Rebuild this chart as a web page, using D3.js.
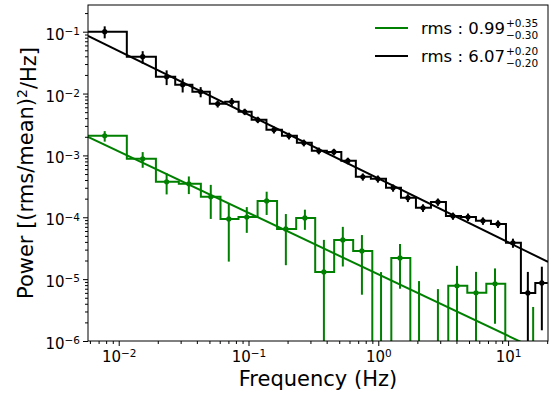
<!DOCTYPE html>
<html>
<head>
<meta charset="utf-8">
<script src="https://cdn.jsdelivr.net/npm/d3@7"></script>
<style>
body { margin: 0; background: #fff; }
text { font-family: "DejaVu Sans", sans-serif; fill: #000; }
</style>
</head>
<body>
<script>
var w = 551;
var h = 394;
var margin = {top: 5, right: 3, bottom: 53, left: 88};
var pw = w - margin.left - margin.right;
var ph = h - margin.top - margin.bottom;

// black series (rms 6.07)
var blackFreq = [0.0078, 0.0153, 0.0234, 0.0311, 0.0428, 0.0579, 0.0743, 0.0935, 0.118,
                 0.157, 0.205, 0.267, 0.348, 0.455, 0.583, 0.760, 0.993, 1.30, 1.69, 2.21,
                 2.88, 3.76, 4.91, 6.40, 8.36, 10.9, 14.2, 18.2];
var blackPower = [0.100, 0.0394, 0.0187, 0.0139, 0.0107, 0.00684, 0.00736, 0.00508, 0.00377,
                  0.00259, 0.00207, 0.00160, 0.00119, 0.00114, 0.000818, 0.000451, 0.000418,
                  0.000299, 0.000206, 0.000142, 0.000177, 0.000105, 0.000101, 0.0000875,
                  0.0000782, 0.0000386, 0.00000598, 0.00000869];
var blackErr = [0.022, 0.009, 0.005, 0.0035, 0.002, 0.0009, 0.0011, 0.0006, 0.00045,
                0.00033, 0.00026, 0.0002, 0.00015, 0.00014, 0.0001, 0.00006, 0.000055,
                0.00004, 0.00003, 0.00002, 0.000024, 0.000014, 0.000014, 0.000012,
                0.000011, 0.0000065, 0.0000071, 0.0000072];

// green series (rms 0.99)
var greenFreq = [0.0078, 0.0153, 0.0234, 0.0347, 0.0512, 0.0705, 0.0970, 0.138, 0.194,
                 0.272, 0.381, 0.533, 0.748, 1.05, 1.47, 2.06, 2.88, 4.04, 5.66, 7.93,
                 11.1, 15.6];
var greenPower = [0.00207, 0.000881, 0.000374, 0.000347, 0.000214, 0.0000942, 0.000101,
                  0.000184, 0.0000648, 0.0000977, 0.0000131, 0.0000430, 0.0000286,
                  -0.000001, 0.0000220, -0.000002, -0.000003, 0.0000078, 0.0000060,
                  0.0000084, -0.000002, 0.0000009];
var greenErr = [0.0004, 0.00025, 0.00014, 0.00011, 0.00012, 0.000075, 0.000045, 0.000075,
                0.000048, 0.000035, 0.00003, 0.000027, 0.000023, 0.000014, 0.000015,
                0.0000113, 0.0000099, 0.0000086, 0.0000071, 0.0000065, 0.000002, 0.00000265];

// power-law model lines (end points)
var modelFreq = [0.0058, 20.3];
var blackModel = [0.0855, 0.000019];
var greenModel = [0.0020, 0.0000006];

var xTicks = [0.01, 0.1, 1, 10];
var xTickExp = ["\u22122", "\u22121", "0", "1"];
var yTicks = [1e-6, 1e-5, 1e-4, 1e-3, 1e-2, 1e-1];
var yTickExp = ["\u22126", "\u22125", "\u22124", "\u22123", "\u22122", "\u22121"];

var legendLabels = [
    {color: "green", main: "rms : 0.99", up: "+0.35", down: "\u22120.30"},
    {color: "black", main: "rms : 6.07", up: "+0.20", down: "\u22120.20"}
];

var svg = d3.select("body").append("svg")
            .attr("width", w)
            .attr("height", h);

var g = svg.append("g")
           .attr("transform", "translate(" + margin.left + "," + margin.top + ")");

var xScale = d3.scaleLog().domain([0.0058, 20.3]).range([0, pw]);
var yScale = d3.scaleLog().domain([1e-6, 0.27]).range([ph, 0]);

function yPos(v) {
    return v > 0 ? yScale(v) : ph + 50;
}

svg.append("defs").append("clipPath").attr("id", "clip")
   .append("rect").attr("width", pw).attr("height", ph);

var plot = g.append("g").attr("clip-path", "url(#clip)");

function edges(f) {
    var e = [f[0] - ((f[0] + f[1]) / 2 - f[0])];
    for (var i = 1; i < f.length; i++) e.push((f[i - 1] + f[i]) / 2);
    var n = f.length;
    e.push(f[n - 1] + (f[n - 1] - (f[n - 2] + f[n - 1]) / 2));
    return e;
}

function drawSeries(freq, power, err, color) {
    var ed = edges(freq);
    var pts = [];
    power.forEach(function(p, i) {
        pts.push([ed[i], p]);
        pts.push([ed[i + 1], p]);
    });
    plot.append("path")
        .datum(pts)
        .attr("fill", "none")
        .attr("stroke", color)
        .attr("stroke-width", 2)
        .attr("d", d3.line()
            .x(function(d) { return xScale(d[0]); })
            .y(function(d) { return yPos(d[1]); }));

    freq.forEach(function(f, i) {
        var top = power[i] + err[i];
        var bot = power[i] - err[i];
        if (top <= 0) return;
        plot.append("line")
            .attr("x1", xScale(f)).attr("x2", xScale(f))
            .attr("y1", yPos(top)).attr("y2", yPos(bot))
            .attr("stroke", color)
            .attr("stroke-width", 2);
        if (power[i] > 0) {
            plot.append("circle")
                .attr("cx", xScale(f))
                .attr("cy", yScale(power[i]))
                .attr("r", 2.6)
                .attr("fill", color);
        }
    });
}

function drawModel(vals, color) {
    plot.append("path")
        .datum(modelFreq.map(function(f, i) { return [f, vals[i]]; }))
        .attr("fill", "none")
        .attr("stroke", color)
        .attr("stroke-width", 2)
        .attr("d", d3.line()
            .x(function(d) { return xScale(d[0]); })
            .y(function(d) { return yScale(d[1]); }));
}

drawSeries(greenFreq, greenPower, greenErr, "green");
drawModel(greenModel, "green");
drawSeries(blackFreq, blackPower, blackErr, "black");
drawModel(blackModel, "black");

// minor ticks
var xMinor = [], yMinor = [];
for (var d = -3; d <= 1; d++) {
    for (var m = 2; m <= 9; m++) {
        var v = m * Math.pow(10, d);
        if (v > 0.0058 && v < 20.3) xMinor.push(v);
    }
}
for (var d2 = -6; d2 <= -1; d2++) {
    for (var m2 = 2; m2 <= 9; m2++) {
        var v2 = m2 * Math.pow(10, d2);
        if (v2 < 0.27) yMinor.push(v2);
    }
}

g.append("g")
 .attr("transform", "translate(0," + ph + ")")
 .call(d3.axisBottom(xScale).tickValues(xMinor).tickSize(3).tickFormat(""))
 .call(function(s) { s.select(".domain").remove(); });

g.append("g")
 .call(d3.axisLeft(yScale).tickValues(yMinor).tickSize(3).tickFormat(""))
 .call(function(s) { s.select(".domain").remove(); });

var xAxisG = g.append("g")
 .attr("transform", "translate(0," + ph + ")")
 .call(d3.axisBottom(xScale).tickValues(xTicks).tickSize(5).tickPadding(5));
xAxisG.select(".domain").remove();
xAxisG.selectAll("text").each(function(d, i) {
    var t = d3.select(this).text(null).attr("font-size", "15px");
    t.append("tspan").text("10");
    t.append("tspan").attr("dy", "-0.45em").attr("font-size", "10.5px").text(xTickExp[i]);
});

var yAxisG = g.append("g")
 .call(d3.axisLeft(yScale).tickValues(yTicks).tickSize(5).tickPadding(3));
yAxisG.select(".domain").remove();
yAxisG.selectAll("text").each(function(d, i) {
    var t = d3.select(this).text(null).attr("font-size", "15px").attr("dy", "0.5em");
    t.append("tspan").text("10");
    t.append("tspan").attr("dy", "-0.45em").attr("font-size", "10.5px").text(yTickExp[i]);
});

g.selectAll(".tick line").attr("stroke", "#000");

// frame
g.append("rect")
 .attr("width", pw).attr("height", ph)
 .attr("fill", "none")
 .attr("stroke", "#000")
 .attr("stroke-width", 1);

// axis titles
svg.append("text")
   .attr("x", margin.left + pw / 2)
   .attr("y", 386)
   .attr("text-anchor", "middle")
   .attr("font-size", "21px")
   .text("Frequency (Hz)");

var yl = svg.append("text")
   .attr("transform", "translate(33," + (margin.top + ph / 2) + ") rotate(-90)")
   .attr("text-anchor", "middle")
   .attr("font-size", "21px");
yl.append("tspan").text("Power [(rms/mean)");
yl.append("tspan").attr("dy", "-0.45em").attr("font-size", "14px").text("2");
yl.append("tspan").attr("dy", "0.45em").text("/Hz]");

// legend
var leg = svg.append("g");
legendLabels.forEach(function(l, i) {
    var ly = 28 + i * 28;
    leg.append("line")
       .attr("x1", 375).attr("x2", 408)
       .attr("y1", ly).attr("y2", ly)
       .attr("stroke", l.color)
       .attr("stroke-width", 2);
    var t = leg.append("text")
       .attr("x", 421).attr("y", ly + 6)
       .attr("font-size", "16.5px")
       .text(l.main);
    var tw = t.node().getComputedTextLength();
    leg.append("text")
       .attr("x", 421 + tw + 1).attr("y", ly - 1)
       .attr("font-size", "10.5px")
       .text(l.up);
    leg.append("text")
       .attr("x", 421 + tw + 1).attr("y", ly + 11)
       .attr("font-size", "10.5px")
       .text(l.down);
});
</script>
</body>
</html>
